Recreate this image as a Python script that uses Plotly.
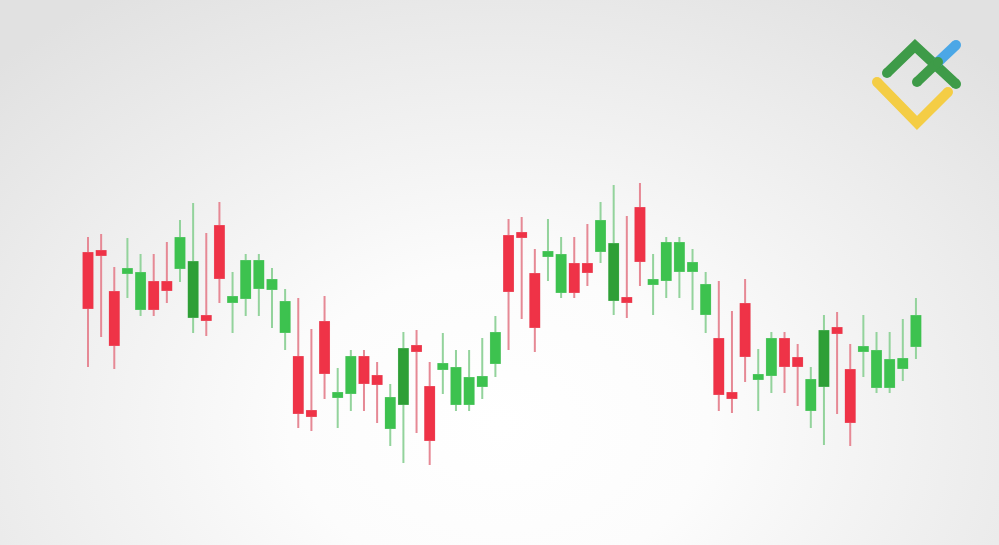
import plotly.graph_objects as go

# ---- data (price units) ----
idx = list(range(64))
open_ = [292, 294, 253, 272, 236, 263, 263, 277, 228, 229, 319, 243, 247, 257, 256, 213,
         188, 134, 223, 148, 152, 188, 169, 117, 141, 199, 158, 176, 141, 141, 159, 182,
         309, 312, 271, 289, 253, 281, 281, 294, 245, 247, 337, 261, 265, 274, 274, 231,
         206, 152, 241, 166, 170, 206, 187, 135, 159, 217, 175, 194, 158, 158, 177, 199]
high = [308, 311, 278, 307, 291, 291, 303, 325, 342, 312, 343, 273, 291, 291, 277, 256,
        247, 216, 249, 177, 195, 195, 183, 161, 213, 215, 183, 212, 195, 195, 207, 229,
        326, 328, 296, 326, 308, 308, 321, 343, 360, 329, 362, 291, 308, 308, 296, 273,
        264, 234, 266, 196, 213, 213, 201, 178, 230, 233, 201, 230, 213, 213, 226, 247]
low = [178, 208, 176, 247, 229, 229, 242, 263, 212, 209, 242, 212, 229, 229, 217, 195,
       117, 114, 146, 117, 134, 134, 122, 99, 82, 112, 80, 151, 134, 134, 146, 168,
       195, 226, 193, 264, 247, 247, 259, 282, 230, 227, 259, 230, 247, 247, 235, 212,
       134, 132, 163, 134, 152, 152, 139, 117, 100, 131, 99, 168, 152, 152, 164, 186]
close = [237, 290, 200, 276, 272, 236, 255, 307, 283, 225, 267, 248, 284, 284, 265, 243,
         132, 129, 172, 152, 188, 162, 161, 147, 196, 194, 105, 181, 177, 167, 168, 212,
         254, 308, 218, 293, 290, 253, 273, 324, 301, 243, 284, 265, 302, 302, 282, 260,
         151, 147, 189, 170, 206, 179, 179, 165, 214, 212, 123, 198, 194, 185, 186, 229]
dark_idx = [8, 24, 40, 56]

RED = "#EF3347"
GREEN = "#3DC24F"
DARK = "#2E9F36"
RED_WICK = "#E68995"
GREEN_WICK = "#93D39C"

fig = go.Figure()

# wicks (and faint outlines)
fig.add_trace(go.Candlestick(
    x=idx, open=open_, high=high, low=low, close=close,
    increasing=dict(line=dict(color=GREEN_WICK, width=2), fillcolor=GREEN_WICK),
    decreasing=dict(line=dict(color=RED_WICK, width=2), fillcolor=RED_WICK),
    whiskerwidth=0, hoverinfo="skip", showlegend=False))

# bodies
norm = [i for i in idx if i not in dark_idx]
def body(ids, up_color):
    o = [open_[i] for i in ids]
    c = [close[i] for i in ids]
    return go.Candlestick(
        x=ids, open=o, close=c,
        high=[max(a, b) for a, b in zip(o, c)],
        low=[min(a, b) for a, b in zip(o, c)],
        increasing=dict(line=dict(color=up_color, width=1.5), fillcolor=up_color),
        decreasing=dict(line=dict(color=RED, width=1.5), fillcolor=RED),
        whiskerwidth=0, hoverinfo="skip", showlegend=False)

fig.add_trace(body(norm, GREEN))
fig.add_trace(body(dark_idx, DARK))

W, H = 999, 545
def px(x, y):
    return x / W, 1 - y / H

shapes = []
def stroke(points, color, width=10):
    d = ""
    for k, (x, y) in enumerate(points):
        u, v = px(x, y)
        d += ("M" if k == 0 else "L") + f"{u:.5f},{v:.5f} "
    shapes.append(dict(type="path", xref="paper", yref="paper", path=d.strip(),
                       line=dict(color=color, width=width)))
    r = width / 2
    for (x, y) in (points[0], points[-1]):
        shapes.append(dict(type="circle", xref="paper", yref="paper",
                           x0=(x - r) / W, x1=(x + r) / W,
                           y0=1 - (y + r) / H, y1=1 - (y - r) / H,
                           fillcolor=color, line=dict(width=0)))

# logo
stroke([(877, 82), (917, 123), (948, 92)], "#F4CD45")
stroke([(887, 73), (915, 46), (956, 84)], "#3E9B48")
stroke([(938, 62), (956, 45)], "#4BA7E6")
stroke([(917, 82), (938, 62)], "#3E9B48")

fig.update_layout(
    width=W, height=H,
    margin=dict(l=0, r=0, t=0, b=0),
    paper_bgcolor="rgba(0,0,0,0)", plot_bgcolor="rgba(0,0,0,0)",
    boxgap=0.32, boxgroupgap=0,
    xaxis=dict(range=[-6.696, 69.32], visible=False, rangeslider=dict(visible=False),
               fixedrange=True),
    yaxis=dict(range=[0, 545], visible=False, fixedrange=True),
    shapes=shapes, showlegend=False,
)

post = ("document.documentElement.style.margin='0';document.body.style.margin='0';"
        "document.body.style.height='100vh';"
        "document.body.style.background='radial-gradient(ellipse 70% 95% at 50% 78%, "
        "#ffffff 0%, #fcfcfc 30%, #ececec 72%, #e1e1e1 100%)';")

fig.write_html("out.html", post_script=post, config={"displayModeBar": False})
